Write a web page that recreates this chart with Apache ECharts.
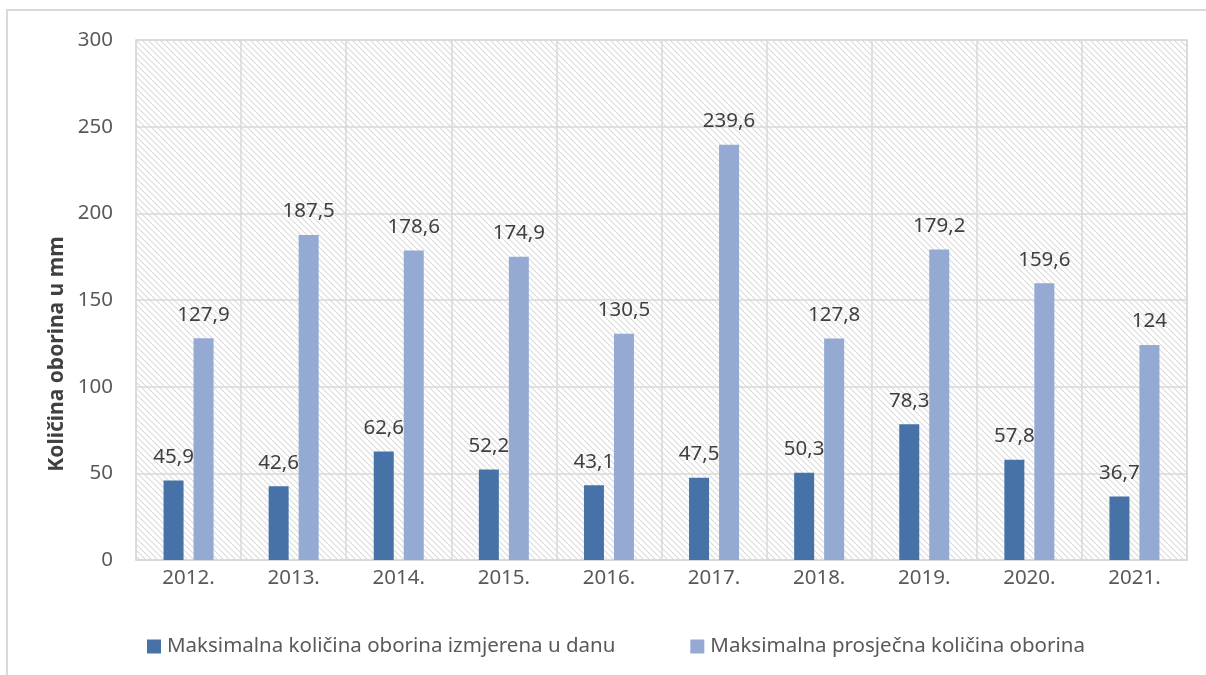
<!DOCTYPE html>
<html>
<head>
<meta charset="utf-8">
<script src="https://cdn.jsdelivr.net/npm/echarts@6/dist/echarts.min.js"></script>
<style>
html,body{margin:0;padding:0;background:#fff;}
#c{width:1206px;height:675px;}
</style>
</head>
<body>
<div id="c"></div>
<script>
const categories = ['2012.', '2013.', '2014.', '2015.', '2016.', '2017.', '2018.', '2019.', '2020.', '2021.'];
const seriesNames = ['Maksimalna količina oborina izmjerena u danu', 'Maksimalna prosječna količina oborina'];
const dailyMax = [45.9, 42.6, 62.6, 52.2, 43.1, 47.5, 50.3, 78.3, 57.8, 36.7];
const avgMax = [127.9, 187.5, 178.6, 174.9, 130.5, 239.6, 127.8, 179.2, 159.6, 124];
const yTitle = 'Količina oborina u mm';

function hatch() {
  const s = 6;
  const cv = document.createElement('canvas');
  cv.width = s; cv.height = s;
  const ctx = cv.getContext('2d');
  ctx.fillStyle = '#ffffff';
  ctx.fillRect(0, 0, s, s);
  ctx.strokeStyle = '#dadada';
  ctx.lineWidth = 1.1;
  [[-1, -1, s + 1, s + 1], [-s, 0, s, 2 * s], [0, -s, 2 * s, s]].forEach(l => {
    ctx.beginPath(); ctx.moveTo(l[0], l[1]); ctx.lineTo(l[2], l[3]); ctx.stroke();
  });
  return cv;
}

const FONT = 'Noto Sans';
const FS = 20.5;
const fmt = p => String(p.value).replace('.', ',');

const chart = echarts.init(document.getElementById('c'), null, {renderer: 'canvas'});
chart.setOption({
  animation: false,
  backgroundColor: '#ffffff',
  textStyle: {fontFamily: FONT},
  graphic: [
    {type: 'rect', shape: {x: 7, y: 10, width: 1400, height: 900}, style: {fill: 'none', stroke: '#d9d9d9', lineWidth: 2}, silent: true, z: -10},
    {type: 'text', x: 57, y: 354, rotation: Math.PI / 2,
     style: {text: yTitle, font: 'bold 21px "Noto Sans"', fill: '#404040', align: 'center', verticalAlign: 'middle'}}
  ],
  grid: {left: 136, top: 40, right: 19, bottom: 115, show: true,
         backgroundColor: {image: hatch(), repeat: 'repeat'},
         borderColor: '#d9d9d9', borderWidth: 1.5},
  legend: {
    left: 147, top: 636, padding: 0, itemWidth: 14, itemHeight: 14, itemGap: 75,
    icon: 'rect',
    textStyle: {fontFamily: FONT, fontSize: FS, color: '#595959', padding: [0, 0, 0, 1]},
    data: seriesNames
  },
  xAxis: {
    type: 'category', data: categories,
    axisLine: {show: true, lineStyle: {color: '#d9d9d9', width: 1.5}},
    axisTick: {show: false},
    splitLine: {show: true, interval: 0, lineStyle: {color: '#d9d9d9', width: 1.5}},
    axisLabel: {fontFamily: FONT, fontSize: FS, color: '#595959', margin: 8}
  },
  yAxis: {
    type: 'value', min: 0, max: 300, interval: 50,
    axisLine: {show: false}, axisTick: {show: false},
    splitLine: {lineStyle: {color: '#d9d9d9', width: 1.5}},
    axisLabel: {fontFamily: FONT, fontSize: FS, color: '#595959', margin: 23}
  },
  series: [
    {name: seriesNames[0], type: 'bar', data: dailyMax, barWidth: 20, barGap: '50%',
     itemStyle: {color: '#4672a8'},
     label: {show: true, position: 'top', distance: 13, formatter: fmt, fontFamily: FONT, fontSize: FS, color: '#404040'}},
    {name: seriesNames[1], type: 'bar', data: avgMax, barWidth: 20,
     itemStyle: {color: '#94aad2'},
     label: {show: true, position: 'top', distance: 13, formatter: fmt, fontFamily: FONT, fontSize: FS, color: '#404040'}}
  ]
});
</script>
</body>
</html>
